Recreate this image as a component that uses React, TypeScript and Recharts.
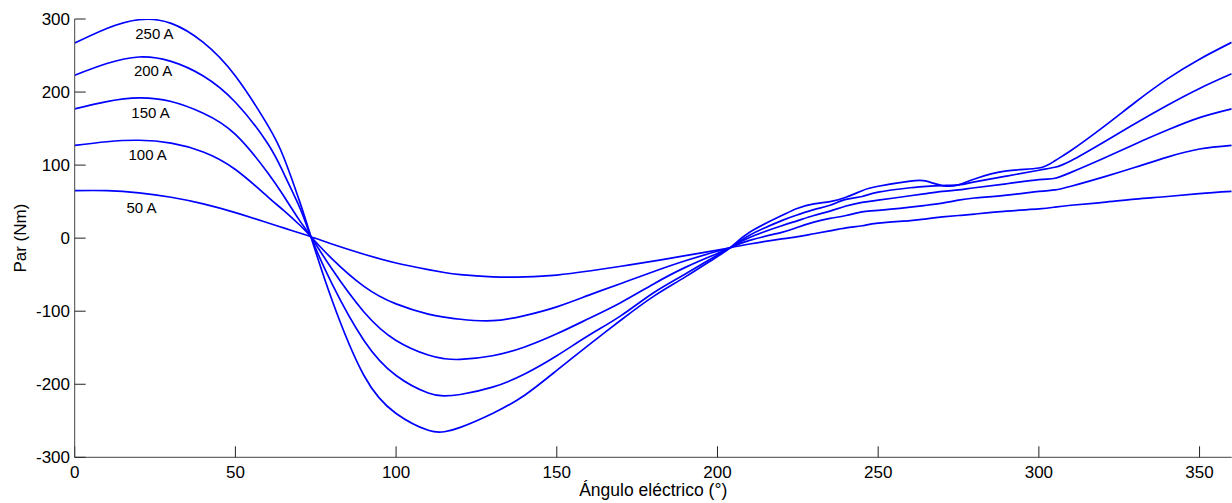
import React from 'react';
import { LineChart, Line, XAxis, YAxis, ReferenceDot } from 'recharts';

const ANGLE = [0, 10, 20, 30, 40, 50, 60, 65, 70, 73.5, 80, 90, 100, 110, 115, 120, 130, 140, 150, 160, 170, 180, 190, 200, 204, 210, 220, 225, 230, 235, 240, 245, 250, 260, 265, 270, 275, 280, 290, 300, 305, 310, 320, 330, 340, 350, 360];

const T250 = [267, 287, 299, 294, 268, 222, 155, 111, 50, 2, -84, -188, -240, -263, -265, -259, -240, -215, -181, -146, -112, -80, -53, -25, -13, 8, 31, 41, 47, 50, 56, 65, 71, 78, 78, 72, 73, 81, 92, 96, 106, 120, 152, 186, 218, 245, 268];
const T200 = [223, 239, 248, 242, 222, 186, 130, 89, 42, 2, -62, -140, -188, -212, -216, -214, -204, -186, -161, -133, -106, -75, -49, -23, -13, 4, 24, 32, 39, 45, 53, 57, 63, 69, 71, 72, 73, 77, 85, 93, 97, 106, 131, 157, 182, 205, 225];
const T150 = [177, 187, 192, 187, 171, 142, 90, 58, 24, 2, -42, -101, -140, -160, -165, -166, -161, -149, -131, -110, -88, -63, -40, -21, -13, 1, 17, 24, 31, 37, 44, 49, 52, 58, 61, 64, 66, 69, 74.5, 80, 82, 90, 109, 129, 148, 165, 177];
const T100 = [127, 132, 134, 130, 118, 94, 57, 38, 18, 2, -28, -66, -90, -104, -108, -111, -113, -106, -94, -78, -62, -46, -31, -18, -13, -3, 8, 15, 22, 27, 31, 36, 38, 42.5, 45, 48, 52, 55, 59, 64, 66, 71, 83.5, 97, 111, 122, 127];
const T50 = [65, 65, 62, 56, 47, 35, 21, 14, 7, 2, -8, -22, -34, -43, -47, -50, -53, -53, -50.5, -45, -38.5, -31.5, -24, -16.5, -13, -8, -1, 2, 6, 10, 14, 17, 20.5, 24, 26.5, 29, 31, 33, 37, 40, 42.5, 45, 49, 53.5, 57, 61, 64];

const X_TICKS = [0, 50, 100, 150, 200, 250, 300, 350];
const Y_TICKS = [-300, -200, -100, 0, 100, 200, 300];

const SERIES = [
  { key: 't250', values: T250 },
  { key: 't200', values: T200 },
  { key: 't150', values: T150 },
  { key: 't100', values: T100 },
  { key: 't50', values: T50 },
];

const CURVE_LABELS = [
  { text: '250 A', x: 24.8, y: 280 },
  { text: '200 A', x: 24.4, y: 229.6 },
  { text: '150 A', x: 23.6, y: 172 },
  { text: '100 A', x: 22.7, y: 114.6 },
  { text: '50 A', x: 20.8, y: 41.4 },
];

const data = ANGLE.map((a, i) => {
  const row: Record<string, number> = { x: a };
  SERIES.forEach((s) => {
    row[s.key] = s.values[i];
  });
  return row;
});

const FONT = 'Arial, "Liberation Sans", Helvetica, sans-serif';

export default function App() {
  return (
    <div style={{ position: 'absolute', left: 0, top: 0, background: '#fff' }}>
      <LineChart
        width={1232}
        height={503}
        data={data}
        margin={{ top: 19, right: 0.3, left: 0, bottom: 0 }}
      >
        <XAxis
          dataKey="x"
          type="number"
          domain={[0, 360]}
          ticks={X_TICKS}
          interval={0}
          height={45.7}
          tickSize={-11}
          tickMargin={19.7}
          axisLine={{ stroke: '#444' }}
          tickLine={{ stroke: '#222' }}
          tick={{ fill: '#000', fontSize: 17, fontFamily: FONT }}
          allowDataOverflow
          label={{
            value: 'Ángulo eléctrico (°)',
            position: 'insideBottom',
            offset: 7,
            fill: '#000',
            fontSize: 17.5,
            fontFamily: FONT,
          }}
        />
        <YAxis
          type="number"
          domain={[-300, 300]}
          ticks={Y_TICKS}
          interval={0}
          width={74.7}
          tickSize={-11}
          tickMargin={15.7}
          axisLine={{ stroke: '#444' }}
          tickLine={{ stroke: '#222' }}
          tick={{ fill: '#000', fontSize: 17, fontFamily: FONT }}
          allowDataOverflow
          label={{
            content: (props: any) => {
              const vb = props.viewBox || { x: 0, y: 19, width: 74.7, height: 438.3 };
              const cx = vb.x + 21;
              const cy = vb.y + vb.height / 2;
              return (
                <text
                  x={cx}
                  y={cy}
                  transform={`rotate(-90, ${cx}, ${cy})`}
                  textAnchor="middle"
                  dominantBaseline="central"
                  fill="#000"
                  fontSize={17}
                  fontFamily={FONT}
                >
                  Par (Nm)
                </text>
              );
            },
          }}
        />
        {SERIES.map((s) => (
          <Line
            key={s.key}
            dataKey={s.key}
            type="natural"
            stroke="#0000ff"
            strokeWidth={1.7}
            dot={false}
            activeDot={false}
            isAnimationActive={false}
          />
        ))}
        {CURVE_LABELS.map((l) => (
          <ReferenceDot
            key={l.text}
            x={l.x}
            y={l.y}
            r={0}
            fill="none"
            stroke="none"
            label={{
              value: l.text,
              position: 'center',
              fill: '#000',
              fontSize: 15,
              fontFamily: FONT,
              fontWeight: 'normal',
            }}
          />
        ))}
      </LineChart>
    </div>
  );
}
